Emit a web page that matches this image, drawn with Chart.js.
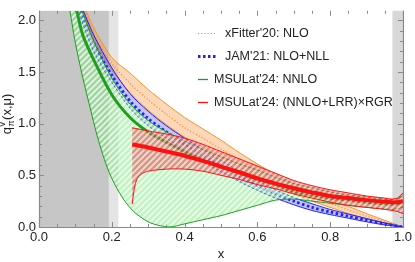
<!DOCTYPE html>
<html><head><meta charset="utf-8">
<script src="https://cdn.jsdelivr.net/npm/chart.js@4/dist/chart.umd.min.js"></script>
<style>html,body{margin:0;padding:0;background:#fff;overflow:hidden}</style>
</head><body>
<canvas id="c" width="415" height="262"></canvas>
<script>
// ---------- data ----------
const xTicks = [0, 0.2, 0.4, 0.6, 0.8, 1.0];
const yTicks = [0, 0.5, 1.0, 1.5, 2.0];
const legendLabels = ["xFitter'20: NLO", "JAM'21: NLO+NLL", "MSULat'24: NNLO", "MSULat'24: (NNLO+LRR)\u00d7RGR"];
// shaded x-regions [from, to]
const shadeDark = [0, 0.192];
const shadeLight = [0.192, 0.218];
const shadeRight = [0.971, 1.0];

// xFitter'20 NLO band
const xfUpX = [0.13,0.15,0.2,0.25,0.3,0.35,0.4,0.45,0.5,0.55,0.6,0.65,0.7,0.75,0.8,0.85,0.9,0.95,1.0];
const xfUpY = [2.09,1.93,1.64,1.49,1.33,1.19,1.06,0.95,0.84,0.72,0.61,0.51,0.42,0.34,0.27,0.20,0.13,0.065,0.0];
const xfLoX = [0.122,0.15,0.2,0.25,0.3,0.35,0.4,0.45,0.5,0.55,0.6,0.65,0.7,0.75,0.8,0.85,0.9,0.95,1.0];
const xfLoY = [2.09,1.82,1.52,1.30,1.13,0.99,0.87,0.77,0.67,0.58,0.49,0.40,0.32,0.25,0.19,0.13,0.08,0.035,0.0];
const xfMidX = [0.126,0.15,0.2,0.25,0.3,0.35,0.4,0.45,0.5,0.55,0.6,0.65,0.7,0.75,0.8,0.85,0.9,0.95,1.0];
const xfMidY = [2.09,1.87,1.58,1.39,1.23,1.09,0.96,0.86,0.755,0.65,0.55,0.455,0.37,0.295,0.23,0.165,0.105,0.05,0.0];

// JAM'21 NLO+NLL band
const jamUpX = [0.122,0.15,0.2,0.25,0.3,0.35,0.4,0.45,0.5,0.55,0.6,0.65,0.7,0.75,0.8,0.85,0.9,0.95,1.0];
const jamUpY = [2.09,1.86,1.54,1.29,1.12,0.98,0.86,0.75,0.645,0.545,0.45,0.36,0.285,0.225,0.17,0.125,0.082,0.04,0.0];
const jamLoX = [0.108,0.15,0.2,0.25,0.3,0.35,0.4,0.45,0.5,0.55,0.6,0.65,0.7,0.75,0.8,0.85,0.9,0.95,1.0];
const jamLoY = [2.09,1.70,1.40,1.15,0.98,0.86,0.74,0.63,0.535,0.44,0.355,0.28,0.215,0.16,0.12,0.085,0.05,0.02,0.0];
const jamMidX = [0.115,0.15,0.2,0.25,0.3,0.35,0.4,0.45,0.5,0.55,0.6,0.65,0.7,0.75,0.8,0.85,0.9,0.95,1.0];
const jamMidY = [2.09,1.78,1.47,1.22,1.05,0.92,0.80,0.69,0.59,0.49,0.40,0.32,0.25,0.19,0.145,0.105,0.065,0.03,0.0];

// MSULat'24 NNLO band
const nnloUpX = [0.118,0.15,0.2,0.25,0.3,0.35,0.4,0.45,0.5,0.55,0.6,0.65,0.7,0.75,0.8,0.85,0.9,0.95,0.97,1.0];
const nnloUpY = [2.09,1.80,1.44,1.19,1.03,0.92,0.83,0.75,0.68,0.61,0.55,0.48,0.42,0.38,0.34,0.31,0.29,0.27,0.265,0.29];
const nnloLoX = [0.085,0.1,0.12,0.14,0.16,0.18,0.2,0.23,0.26,0.3,0.33,0.36,0.4,0.45,0.5,0.55,0.6,0.65,0.7,0.75,0.8,0.85,0.9,0.95,0.97,1.0];
const nnloLoY = [2.09,1.78,1.45,1.16,0.88,0.65,0.47,0.28,0.15,0.05,0.015,0.0,0.03,0.07,0.11,0.16,0.21,0.26,0.27,0.25,0.23,0.21,0.19,0.175,0.17,0.19];
const nnloMidX = [0.104,0.12,0.15,0.2,0.25,0.3,0.35,0.4,0.45,0.5,0.55,0.6,0.65,0.7,0.75,0.8,0.85,0.9,0.95,0.97,1.0];
const nnloMidY = [2.09,1.86,1.62,1.28,1.06,0.92,0.82,0.73,0.65,0.58,0.52,0.46,0.41,0.34,0.31,0.28,0.26,0.24,0.225,0.22,0.235];

// MSULat'24 (NNLO+LRR)xRGR band
const lrrUpX = [0.256,0.3,0.35,0.4,0.45,0.5,0.55,0.6,0.65,0.7,0.75,0.8,0.85,0.9,0.95,0.97,0.985,1.0];
const lrrUpY = [0.96,0.93,0.90,0.86,0.80,0.73,0.66,0.59,0.52,0.45,0.40,0.36,0.33,0.30,0.28,0.27,0.28,0.33];
const lrrLoX = [0.256,0.26,0.265,0.27,0.28,0.3,0.35,0.4,0.45,0.5,0.55,0.6,0.65,0.7,0.75,0.8,0.85,0.9,0.95,0.97,0.985,1.0];
const lrrLoY = [0.22,0.33,0.42,0.47,0.51,0.54,0.56,0.56,0.54,0.50,0.46,0.41,0.37,0.32,0.28,0.24,0.21,0.19,0.17,0.16,0.15,0.13];
const lrrMidX = [0.256,0.3,0.35,0.4,0.45,0.5,0.55,0.6,0.65,0.7,0.75,0.8,0.85,0.9,0.95,0.97,0.985,1.0];
const lrrMidY = [0.80,0.77,0.73,0.69,0.64,0.585,0.53,0.47,0.42,0.375,0.335,0.30,0.28,0.26,0.245,0.24,0.24,0.25];

// ---------- helpers ----------
const FONT = "'Liberation Sans', Arial, sans-serif";
const pts = (xs, ys) => xs.map((x, i) => ({x, y: ys[i]}));
const polygon = (ux, uy, lx, ly) => pts(ux, uy).concat(pts(lx, ly).reverse());

function hatch(base, stripe) {
  const s = 6, c = document.createElement('canvas');
  c.width = s; c.height = s;
  const g = c.getContext('2d');
  g.fillStyle = base; g.fillRect(0, 0, s, s);
  g.strokeStyle = stripe; g.lineWidth = 1.7;
  g.beginPath();
  g.moveTo(0, s); g.lineTo(s, 0);
  g.moveTo(-1, 1); g.lineTo(1, -1);
  g.moveTo(s - 1, s + 1); g.lineTo(s + 1, s - 1);
  g.stroke();
  return g.createPattern(c, 'repeat');
}

const C = {
  orange: '#f7941d', orangeFill: 'rgba(250,150,70,0.38)',
  blue: '#2020ff', blueFill: 'rgba(90,90,255,0.36)',
  green: '#1e9e1e', greenFill: hatch('rgba(110,235,110,0.45)', 'rgba(255,255,255,0.75)'),
  red: '#ff1010', redFill: hatch('rgba(225,80,80,0.55)', 'rgba(255,255,255,0.6)')
};

function shape(data, fill, order) {
  return {data, fill: 'shape', backgroundColor: fill, borderWidth: 0, pointRadius: 0, tension: 0.3, order};
}
function line(data, color, width, order, dash) {
  return {data, fill: false, borderColor: color, borderWidth: width, pointRadius: 0, tension: 0.3,
          borderDash: dash || [], borderCapStyle: 'butt', order};
}

const datasets = [
  shape(polygon(xfUpX, xfUpY, xfLoX, xfLoY), C.orangeFill, 100),
  line(pts(xfUpX, xfUpY), C.orange, 1, 99),
  line(pts(xfLoX, xfLoY), C.orange, 1, 99),
  line(pts(xfMidX, xfMidY), C.orange, 1.2, 98, [1.2, 2]),

  shape(polygon(jamUpX, jamUpY, jamLoX, jamLoY), C.blueFill, 90),
  line(pts(jamUpX, jamUpY), C.blue, 1, 89),
  line(pts(jamLoX, jamLoY), C.blue, 1, 89),
  line(pts(jamMidX, jamMidY), C.blue, 2.8, 88, [2.5, 2.5]),

  shape(polygon(nnloUpX, nnloUpY, nnloLoX, nnloLoY), C.greenFill, 80),
  line(pts(nnloUpX, nnloUpY), C.green, 1, 79),
  line(pts(nnloLoX, nnloLoY), C.green, 1, 79),
  line(pts(nnloMidX, nnloMidY), C.green, 3, 78),

  shape(polygon(lrrUpX, lrrUpY, lrrLoX, lrrLoY), C.redFill, 70),
  line(pts(lrrUpX, lrrUpY), C.red, 1, 69),
  line(pts(lrrLoX, lrrLoY), C.red, 1, 69),
  line(pts(lrrMidX, lrrMidY), C.red, 4, 68)
];

// background shading + frame + ticks
const framePlugin = {
  id: 'frame',
  beforeDatasetsDraw(chart) {
    const {ctx, chartArea: a, scales: {x, y}} = chart;
    ctx.save();
    const band = (r, col) => { const x0 = x.getPixelForValue(r[0]), x1 = x.getPixelForValue(r[1]); ctx.fillStyle = col; ctx.fillRect(x0, a.top, x1 - x0, a.bottom - a.top); };
    band(shadeDark, '#c6c6c6');
    band(shadeLight, '#e4e4e4');
    band(shadeRight, '#d8d8d8');
    ctx.strokeStyle = '#8a8a8a'; ctx.lineWidth = 1;
    ctx.beginPath();
    for (let i = 0; i <= 20; i++) {
      const v = i * 0.05, px = Math.round(x.getPixelForValue(v)) + 0.5, L = (i % 4 === 0) ? 5 : 3;
      ctx.moveTo(px, a.bottom); ctx.lineTo(px, a.bottom - L);
      ctx.moveTo(px, a.top); ctx.lineTo(px, a.top + L);
    }
    for (let i = 0; i <= 20; i++) {
      const v = i * 0.1, py = Math.round(y.getPixelForValue(v)) + 0.5, L = (i % 5 === 0) ? 5 : 3;
      ctx.moveTo(a.left, py); ctx.lineTo(a.left + L, py);
      ctx.moveTo(a.right, py); ctx.lineTo(a.right - L, py);
    }
    ctx.stroke();
    ctx.restore();
  },
  afterDatasetsDraw(chart) {
    const {ctx, chartArea: a} = chart;
    ctx.save();
    ctx.strokeStyle = '#8a8a8a'; ctx.lineWidth = 1.2;
    ctx.beginPath();
    ctx.moveTo(a.left + 0.5, a.top); ctx.lineTo(a.left + 0.5, a.bottom + 0.5);
    ctx.lineTo(a.right + 0.5, a.bottom + 0.5); ctx.lineTo(a.right + 0.5, a.top);
    ctx.stroke();
    ctx.restore();
  },
  afterDraw(chart) {
    const {ctx} = chart;
    ctx.save();
    // y-axis title q_pi^v(x,mu), rotated
    ctx.translate(11, 114);
    ctx.rotate(-Math.PI / 2);
    ctx.fillStyle = '#222';
    const big = '13px ' + FONT, small = '9px ' + FONT;
    ctx.font = big; const wq = ctx.measureText('q').width, wr = ctx.measureText('(x,\u03bc)').width;
    ctx.font = small; const ws = Math.max(ctx.measureText('\u03c0').width, ctx.measureText('v').width);
    let x0 = -(wq + ws + wr + 1) / 2;
    ctx.textBaseline = 'alphabetic';
    ctx.font = big; ctx.fillText('q', x0, 0);
    ctx.font = small; ctx.fillText('\u03c0', x0 + wq + 0.5, 3); ctx.fillText('v', x0 + wq + 0.5, -6);
    ctx.font = big; ctx.fillText('(x,\u03bc)', x0 + wq + ws + 1, 0);
    ctx.restore();

    // legend
    ctx.save();
    const rows = [33, 56, 79, 102];
    const sampleEnd = [215, 217, 208, 208];
    const textX = [225, 225, 214, 214];
    const styles = [
      {c: C.orange, w: 1.2, d: [1.2, 2]},
      {c: C.blue, w: 2.8, d: [2.5, 2.5]},
      {c: C.green, w: 1.3, d: []},
      {c: C.red, w: 1.3, d: []}
    ];
    ctx.font = '12.5px ' + FONT; ctx.textBaseline = 'middle'; ctx.fillStyle = '#222';
    legendLabels.forEach((t, i) => {
      const s = styles[i];
      ctx.strokeStyle = s.c; ctx.lineWidth = s.w; ctx.setLineDash(s.d); ctx.lineCap = 'butt';
      ctx.beginPath(); ctx.moveTo(198, rows[i] + 0.5); ctx.lineTo(sampleEnd[i], rows[i] + 0.5); ctx.stroke();
      ctx.fillText(t, textX[i], rows[i] + 0.5);
    });
    ctx.restore();
  }
};

new Chart(document.getElementById('c'), {
  type: 'line',
  data: {datasets},
  plugins: [framePlugin],
  options: {
    responsive: false, animation: false, devicePixelRatio: 1,
    layout: {padding: {left: 0, right: 9, top: 0, bottom: 0}},
    plugins: {legend: {display: false}, tooltip: {enabled: false}},
    scales: {
      x: {
        type: 'linear', min: 0, max: 1,
        afterFit(s) { s.height = 35; },
        afterBuildTicks(s) { s.ticks = xTicks.map(v => ({value: v})); },
        grid: {display: false, drawTicks: false}, border: {display: false},
        ticks: {padding: 3, color: '#222', font: {family: FONT, size: 13}, maxRotation: 0, autoSkip: false,
                callback: v => Number(v).toFixed(1)},
        title: {display: true, text: 'x', color: '#222', font: {family: FONT, size: 13}, padding: {top: 0, bottom: 0}}
      },
      y: {
        type: 'linear', min: 0, max: 2.092,
        afterFit(s) { s.width = 39; },
        afterBuildTicks(s) { s.ticks = yTicks.map(v => ({value: v})); },
        grid: {display: false, drawTicks: false}, border: {display: false},
        ticks: {padding: 3, color: '#222', font: {family: FONT, size: 13}, autoSkip: false,
                callback: v => Number(v).toFixed(1)}
      }
    }
  }
});
</script>
</body></html>
